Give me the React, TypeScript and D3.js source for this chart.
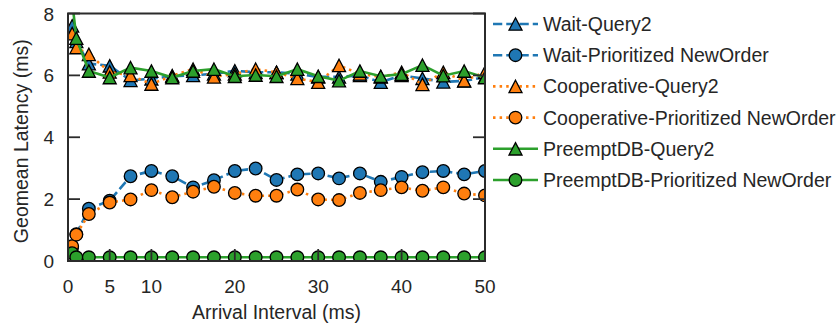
import { useEffect, useRef } from 'react';
import * as d3 from 'd3';

// arrival interval (ms)
const intervals = [0.5, 1, 2.5, 5, 7.5, 10, 12.5, 15, 17.5, 20, 22.5, 25, 27.5, 30, 32.5, 35, 37.5, 40, 42.5, 45, 47.5, 50];

// geomean latency (ms) per series
const waitQuery2 = [7.6, 7.1, 6.38, 6.31, 5.84, 5.89, 5.97, 6.0, 6.05, 6.15, 6.1, 6.1, 6.05, 5.95, 5.95, 6.0, 5.78, 6.0, 5.9, 5.79, 5.82, 5.95];
const waitNewOrder = [0.45, 0.87, 1.69, 1.95, 2.74, 2.91, 2.74, 2.38, 2.61, 2.91, 2.99, 2.62, 2.8, 2.83, 2.67, 2.83, 2.56, 2.72, 2.87, 2.91, 2.8, 2.91];
const coopQuery2 = [7.35, 6.9, 6.68, 6.11, 6.0, 5.72, 5.99, 6.2, 5.95, 6.05, 6.2, 6.1, 5.9, 5.78, 6.32, 6.05, 5.95, 6.1, 5.71, 6.1, 5.83, 6.1];
const coopNewOrder = [0.48, 0.85, 1.52, 1.89, 1.99, 2.29, 2.06, 2.24, 2.4, 2.2, 2.11, 2.11, 2.31, 1.99, 1.97, 2.2, 2.29, 2.38, 2.27, 2.38, 2.18, 2.12];
const preemptQuery2 = [8.4, 7.2, 6.14, 5.93, 6.25, 6.14, 5.93, 6.14, 6.2, 5.97, 6.01, 5.97, 6.2, 5.97, 5.83, 6.14, 5.97, 6.04, 6.33, 5.99, 6.14, 5.93];
const preemptNewOrder = [0.25, 0.12, 0.12, 0.12, 0.12, 0.12, 0.12, 0.12, 0.12, 0.12, 0.12, 0.12, 0.12, 0.12, 0.12, 0.12, 0.12, 0.12, 0.12, 0.12, 0.12, 0.12];

const xTicks = [0, 5, 10, 20, 30, 40, 50];
const yTicks = [0, 2, 4, 6, 8];

const series = [
  { name: 'Wait-Query2', values: waitQuery2, color: '#1f77b4', dash: '9.25 4', marker: 'tri' },
  { name: 'Wait-Prioritized NewOrder', values: waitNewOrder, color: '#1f77b4', dash: '9.25 4', marker: 'circle' },
  { name: 'Cooperative-Query2', values: coopQuery2, color: '#ff7f0e', dash: '2.5 4.1', marker: 'tri' },
  { name: 'Cooperative-Prioritized NewOrder', values: coopNewOrder, color: '#ff7f0e', dash: '2.5 4.1', marker: 'circle' },
  { name: 'PreemptDB-Query2', values: preemptQuery2, color: '#2ca02c', dash: null, marker: 'tri' },
  { name: 'PreemptDB-Prioritized NewOrder', values: preemptNewOrder, color: '#2ca02c', dash: null, marker: 'circle' },
];

const FONT = '"Liberation Sans", Arial, sans-serif';

export default function App() {
  const ref = useRef<SVGSVGElement>(null);

  useEffect(() => {
    const svg = d3.select(ref.current);
    svg.selectAll('*').remove();

    const left = 68, right = 485, top = 13.5, bottom = 261;
    const x = d3.scaleLinear().domain([0, 50]).range([left, right]);
    const y = d3.scaleLinear().domain([0, 8]).range([bottom, top]);

    svg.append('defs').append('clipPath').attr('id', 'plot-clip')
      .append('rect')
      .attr('x', left).attr('y', top)
      .attr('width', right - left).attr('height', bottom - top);

    // draw a marker shape into a group
    const drawMarker = (g: any, kind: string, cx: number, cy: number, color: string) => {
      if (kind === 'circle') {
        g.append('circle')
          .attr('cx', cx).attr('cy', cy).attr('r', 6.3)
          .attr('fill', color).attr('stroke', '#000').attr('stroke-width', 1.3);
      } else {
        const w = 6.5, h = 6.2;
        g.append('path')
          .attr('d', `M${cx},${cy - h}L${cx + w},${cy + h}L${cx - w},${cy + h}Z`)
          .attr('fill', color).attr('stroke', '#000').attr('stroke-width', 1.3)
          .attr('stroke-linejoin', 'miter');
      }
    };

    const plot = svg.append('g').attr('clip-path', 'url(#plot-clip)');
    const line = d3.line<number>()
      .x((_, i) => x(intervals[i]))
      .y(d => y(d));

    series.forEach(s => {
      const g = plot.append('g');
      g.append('path')
        .attr('d', line(s.values))
        .attr('fill', 'none')
        .attr('stroke', s.color)
        .attr('stroke-width', 2.6)
        .attr('stroke-dasharray', s.dash)
        .attr('stroke-linecap', s.dash === '2.5 4.1' ? 'butt' : 'butt');
      s.values.forEach((v, i) => drawMarker(g, s.marker, x(intervals[i]), y(v), s.color));
    });

    // ticks (inward)
    const axisColor = '#2b2b2b';
    const tickG = svg.append('g').attr('stroke', axisColor).attr('stroke-width', 1.8);
    xTicks.forEach(t => {
      tickG.append('line').attr('x1', x(t)).attr('x2', x(t)).attr('y1', bottom).attr('y2', bottom - 12);
    });
    yTicks.forEach(t => {
      tickG.append('line').attr('x1', left).attr('x2', left + 12).attr('y1', y(t)).attr('y2', y(t));
      tickG.append('line').attr('x1', right).attr('x2', right - 12).attr('y1', y(t)).attr('y2', y(t));
    });

    // frame
    svg.append('rect')
      .attr('x', left).attr('y', top)
      .attr('width', right - left).attr('height', bottom - top)
      .attr('fill', 'none').attr('stroke', axisColor).attr('stroke-width', 2);

    const textColor = '#262626';
    // tick labels
    svg.append('g').selectAll('text').data(xTicks).join('text')
      .attr('x', d => x(d)).attr('y', 293)
      .attr('text-anchor', 'middle')
      .attr('font-family', FONT).attr('font-size', 19).attr('fill', textColor)
      .text(d => d);
    svg.append('g').selectAll('text').data(yTicks).join('text')
      .attr('x', 54).attr('y', d => y(d) + 7)
      .attr('text-anchor', 'end')
      .attr('font-family', FONT).attr('font-size', 19).attr('fill', textColor)
      .text(d => d);

    // axis titles
    svg.append('text')
      .attr('x', (left + right) / 2).attr('y', 319)
      .attr('text-anchor', 'middle')
      .attr('font-family', FONT).attr('font-size', 19.5).attr('fill', textColor)
      .text('Arrival Interval (ms)');
    svg.append('text')
      .attr('transform', `translate(28, ${(top + bottom) / 2 + 4}) rotate(-90)`)
      .attr('text-anchor', 'middle')
      .attr('font-family', FONT).attr('font-size', 19.5).attr('fill', textColor)
      .text('Geomean Latency (ms)');

    // legend
    const legend = svg.append('g');
    series.forEach((s, i) => {
      const cy = 24 + i * 31.2;
      const item = legend.append('g');
      item.append('line')
        .attr('x1', 493).attr('x2', 538).attr('y1', cy).attr('y2', cy)
        .attr('stroke', s.color).attr('stroke-width', 2.6)
        .attr('stroke-dasharray', s.dash);
      drawMarker(item, s.marker, 515.5, cy, s.color);
      item.append('text')
        .attr('x', 543).attr('y', cy + 7)
        .attr('font-family', FONT).attr('font-size', 19.5).attr('fill', textColor)
        .text(s.name);
    });
  }, []);

  return (
    <svg ref={ref} width={840} height={329}
      style={{ position: 'absolute', left: 0, top: 0, background: '#fff' }} />
  );
}
